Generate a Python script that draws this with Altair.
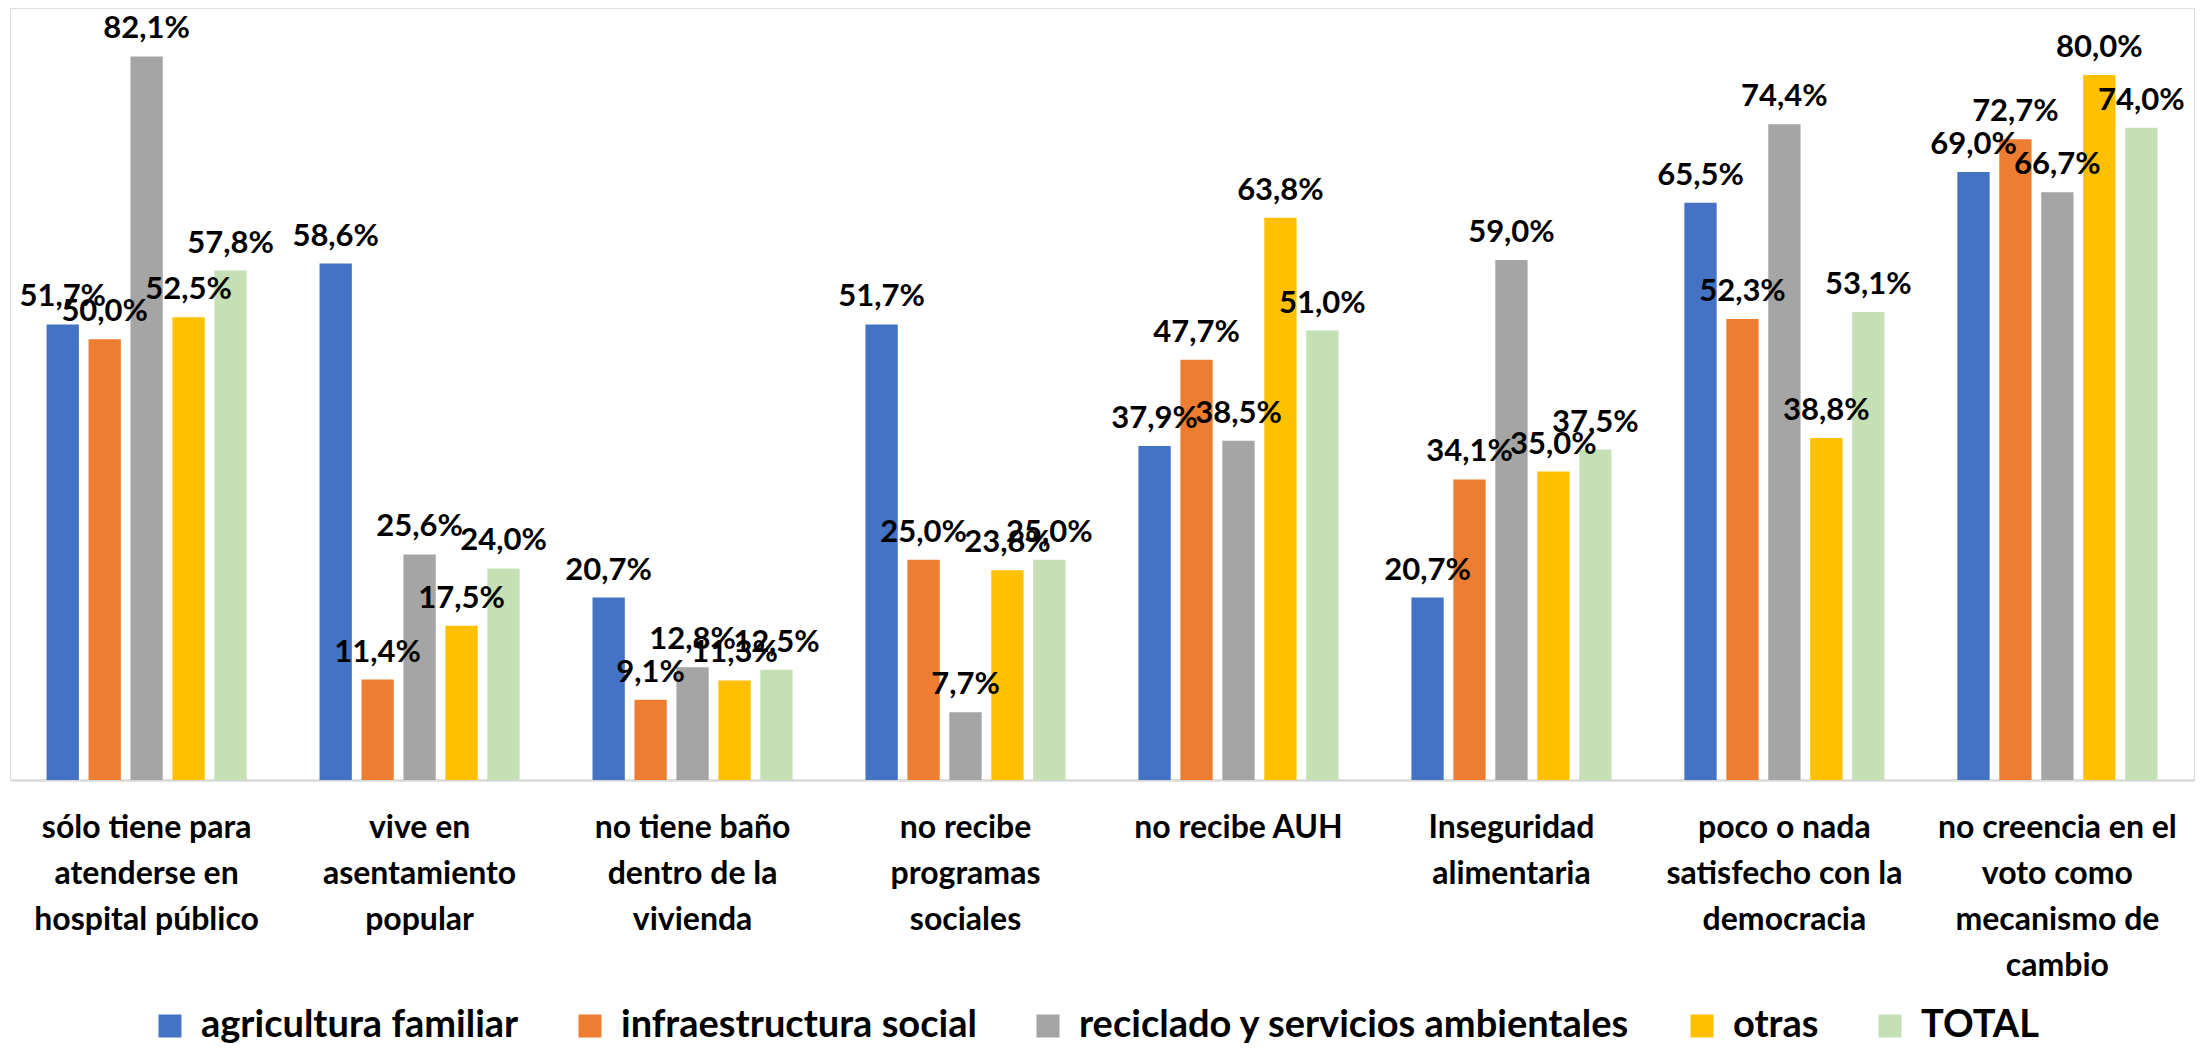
import altair as alt
import pandas as pd

categories = [
    "sólo tiene para|atenderse en|hospital público",
    "vive en|asentamiento|popular",
    "no tiene baño|dentro de la|vivienda",
    "no recibe|programas|sociales",
    "no recibe AUH",
    "Inseguridad|alimentaria",
    "poco o nada|satisfecho con la|democracia",
    "no creencia en el|voto como|mecanismo de|cambio",
]
series = [
    "agricultura familiar",
    "infraestructura social",
    "reciclado y servicios ambientales",
    "otras",
    "TOTAL",
]
agricultura_familiar = [51.7, 58.6, 20.7, 51.7, 37.9, 20.7, 65.5, 69.0]
infraestructura_social = [50.0, 11.4, 9.1, 25.0, 47.7, 34.1, 52.3, 72.7]
reciclado = [82.1, 25.6, 12.8, 7.7, 38.5, 59.0, 74.4, 66.7]
otras = [52.5, 17.5, 11.3, 23.8, 63.8, 35.0, 38.8, 80.0]
total = [57.8, 24.0, 12.5, 25.0, 51.0, 37.5, 53.1, 74.0]
colors = ["#4472C4", "#ED7D31", "#A5A5A5", "#FFC000", "#C5E0B4"]

rows = []
for s, vals in zip(series, [agricultura_familiar, infraestructura_social, reciclado, otras, total]):
    for c, v in zip(categories, vals):
        rows.append({"cat": c, "serie": s, "valor": v})
df = pd.DataFrame(rows)

FONT = "Lato"

x = alt.X(
    "cat:N",
    sort=categories,
    scale=alt.Scale(paddingInner=0.267, paddingOuter=0.134),
    axis=alt.Axis(
        title=None,
        labelExpr="split(datum.label, '|')",
        labelAngle=0,
        labelFont=FONT,
        labelFontSize=32,
        labelFontWeight="bold",
        labelColor="black",
        labelLineHeight=46,
        labelPadding=32,
        labelLimit=600,
        labelOverlap=False,
        ticks=False,
        domainColor="#D9D9D9",
        domainWidth=2.5,
        grid=False,
    ),
)
xo = alt.XOffset(
    "serie:N",
    sort=series,
    scale=alt.Scale(paddingInner=0.23, paddingOuter=0),
)
y = alt.Y("valor:Q", scale=alt.Scale(domain=[0, 87.6]), axis=None)

bars = alt.Chart(df).mark_bar().encode(
    x=x,
    xOffset=xo,
    y=y,
    color=alt.Color(
        "serie:N",
        sort=series,
        scale=alt.Scale(domain=series, range=colors),
        legend=alt.Legend(
            title=None,
            orient="none",
            legendX=141,
            legendY=999,
            direction="horizontal",
            symbolType="square",
            symbolSize=529,
            symbolStrokeWidth=0,
            labelFont=FONT,
            labelFontSize=38,
            labelFontWeight="bold",
            labelColor="black",
            labelOffset=12,
            columnPadding=52,
            labelLimit=900,
        ),
    ),
)

labels = alt.Chart(df).transform_calculate(
    lbl="replace(format(datum.valor, '.1f'), '.', ',') + '%'"
).mark_text(
    dy=-27,
    baseline="middle",
    align="center",
    font=FONT,
    fontSize=31,
    fontWeight="bold",
    color="black",
).encode(x=x, xOffset=xo, y=y, text="lbl:N")

chart = alt.layer(bars, labels).properties(
    width=2184,
    height=772,
    autosize=alt.AutoSizeParams(type="none"),
    padding={"left": 2, "top": 0, "right": 8, "bottom": 268},
).configure_view(stroke=None).configure(background="white")

chart.save("out.html", embed_options={"renderer": "svg", "actions": False})
